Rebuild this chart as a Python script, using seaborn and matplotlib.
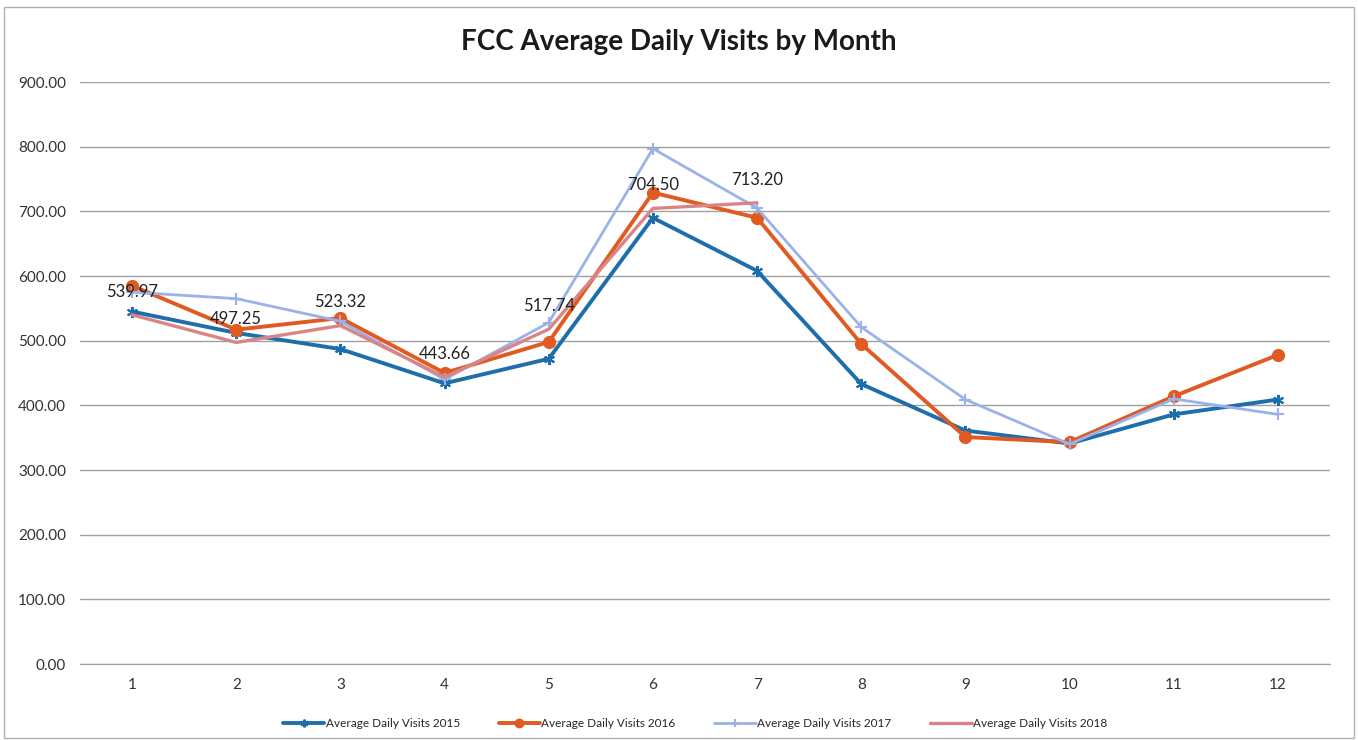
import pandas as pd
import matplotlib.pyplot as plt
import seaborn as sns
from matplotlib.patches import Rectangle

# Average daily visits per month
months = [1, 2, 3, 4, 5, 6, 7, 8, 9, 10, 11, 12]
visits_2015 = [545, 512, 487, 434, 472, 690, 608, 433, 361, 341, 386, 409]
visits_2016 = [585, 517, 535, 450, 498, 729, 690, 495, 351, 343, 414, 478]
visits_2017 = [575, 565, 530, 440, 528, 797, 705, 521, 409, 340, 410, 386]
visits_2018 = [539.97, 497.25, 523.32, 443.66, 517.74, 704.50, 713.20]

series = {
    'Average Daily Visits 2015': visits_2015,
    'Average Daily Visits 2016': visits_2016,
    'Average Daily Visits 2017': visits_2017,
    'Average Daily Visits 2018': visits_2018,
}
rows = []
for name, vals in series.items():
    for m, v in zip(months, vals):
        rows.append({'Month': str(m), 'Visits': v, 'Series': name})
df = pd.DataFrame(rows)

colors = ['#1f6eac', '#e05a22', '#9bb1ea', '#d98585']
markers = [(6, 2, 0), 'o', '+', None]
widths = [2.8, 2.8, 2.0, 2.4]
msizes = [8, 8, 8, 0]

sns.set_style('white')
plt.rcParams['font.family'] = ['Lato', 'DejaVu Sans']

fig = plt.figure(figsize=(13.58, 7.40), dpi=100)
ax = fig.add_axes([80 / 1358, 1 - 664 / 740, 1250 / 1358, 582 / 740])

for (name, _), c, mk, lw, ms in zip(series.items(), colors, markers, widths, msizes):
    sub = df[df['Series'] == name]
    sns.lineplot(data=sub, x='Month', y='Visits', ax=ax, color=c, lw=lw,
                 marker=mk, markersize=ms, markeredgecolor=c, markeredgewidth=1.5,
                 label=name, sort=False)

# data labels for 2018
for m, v in zip(months, visits_2018):
    ax.annotate(f'{v:.2f}', (m - 1, v), xytext=(0, 11), textcoords='offset points',
                ha='center', va='bottom', fontsize=12, color='#222222')

ax.set_ylim(0, 900)
ax.set_xlim(-0.5, 11.5)
ax.set_yticks(range(0, 901, 100))
ax.set_yticklabels([f'{t:.2f}' for t in range(0, 901, 100)])
ax.yaxis.grid(True, color='#a0a0a0', lw=1)
ax.xaxis.grid(False)
for s in ['top', 'right', 'left']:
    ax.spines[s].set_visible(False)
ax.spines['bottom'].set_color('#a0a0a0')
ax.tick_params(axis='both', labelsize=11, colors='#333333', length=0, pad=10)
ax.set_xlabel('')
ax.set_ylabel('')

fig.text(0.5, 1 - 42 / 740, 'FCC Average Daily Visits by Month', ha='center', va='center',
         fontsize=20, fontweight='bold', color='#1a1a1a')

ax.legend(loc='upper center', bbox_to_anchor=(0.492, -0.075), ncol=4, frameon=False,
          fontsize=8.5, handlelength=3.5, columnspacing=3.3, handletextpad=0.1,
          markerscale=0.7)

fig.patches.append(Rectangle((0.003, 0.003), 0.994, 0.988, transform=fig.transFigure,
                             fill=False, edgecolor='#b0b0b0', lw=1))

fig.savefig('out.png', dpi=100)
